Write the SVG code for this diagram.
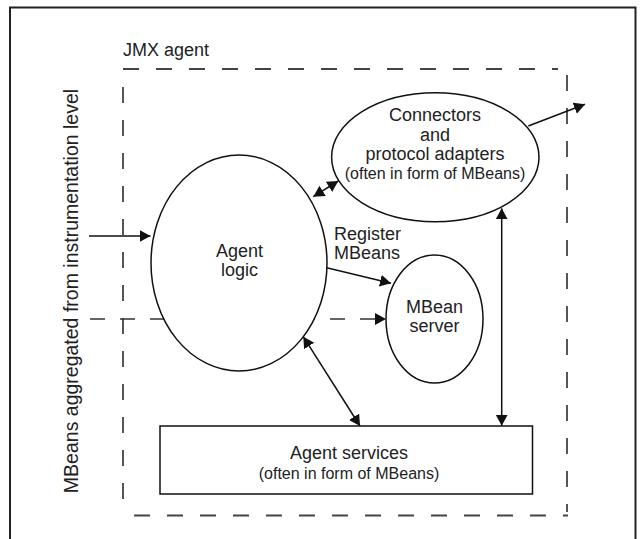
<svg xmlns="http://www.w3.org/2000/svg" width="643" height="539" viewBox="0 0 643 539">
  <style>
    .frame { fill: none; stroke: #222; stroke-width: 2; }
    .node { fill: #fff; stroke: #111; stroke-width: 1.5; }
    .bound { fill: none; stroke: #444; stroke-width: 1.8; stroke-dasharray: 16 17; }
    .wire { fill: none; stroke: #111; stroke-width: 1.5; }
    .wire-dash { fill: none; stroke: #333; stroke-width: 1.6; stroke-dasharray: 15 15; }
    text { font-family: "Liberation Sans", Arial, sans-serif; fill: #222; }
    .lbl { font-size: 18px; text-anchor: middle; }
    .sub { font-size: 16px; text-anchor: middle; }
    .side { font-size: 19.5px; text-anchor: middle; }
  </style>
  <defs>
    <marker id="head" markerUnits="userSpaceOnUse" markerWidth="12" markerHeight="13" refX="11" refY="6" orient="auto-start-reverse">
      <path d="M0,0 L11,6 L0,12 Z" fill="#111"/>
    </marker>
  </defs>

  <rect width="643" height="539" fill="#fff"/>

  <!-- outer page frame (bottom edge runs off the page) -->
  <rect class="frame" x="10" y="7.5" width="625.5" height="560"/>

  <!-- JMX agent boundary -->
  <g id="jmx-agent">
    <text x="123" y="56" font-size="18px">JMX agent</text>
    <line class="bound" x1="123" y1="69" x2="558" y2="69"/>
    <line class="bound" x1="123" y1="87" x2="123" y2="512"/>
    <line class="bound" x1="567" y1="75" x2="567" y2="512"/>
    <line class="bound" x1="134" y1="515.5" x2="568" y2="515.5"/>
  </g>

  <!-- side caption -->
  <g id="instrumentation-level">
    <text class="side" x="78" y="291" transform="rotate(-90 78 291)">MBeans aggregated from instrumentation level</text>
  </g>

  <!-- connectors -->
  <g id="connectors">
    <line class="wire" x1="89" y1="236" x2="150.5" y2="236" marker-end="url(#head)"/>
    <line class="wire" x1="326.7" y1="267.7" x2="391" y2="283.3" marker-end="url(#head)"/>
    <line class="wire-dash" x1="90" y1="319" x2="386" y2="319" marker-end="url(#head)"/>
    <line class="wire" x1="313.3" y1="196.7" x2="338.3" y2="181" marker-start="url(#head)" marker-end="url(#head)"/>
    <line class="wire" x1="528.3" y1="126" x2="585" y2="104.3" marker-end="url(#head)"/>
    <line class="wire" x1="501.7" y1="208.3" x2="501.7" y2="425.7" marker-start="url(#head)" marker-end="url(#head)"/>
    <line class="wire" x1="303.3" y1="336.7" x2="360" y2="426" marker-start="url(#head)" marker-end="url(#head)"/>
  </g>

  <g id="agent-logic">
    <ellipse class="node" cx="239" cy="263" rx="88" ry="108"/>
    <text class="lbl" x="239.5" y="257">Agent</text>
    <text class="lbl" x="239.5" y="275.5">logic</text>
  </g>

  <g id="register-label">
    <text x="334" y="239.5" font-size="18px">Register</text>
    <text x="334" y="258.5" font-size="18px">MBeans</text>
  </g>

  <g id="connectors-adapters">
    <ellipse class="node" cx="435.3" cy="157.2" rx="103.7" ry="64.5"/>
    <text class="lbl" x="435" y="121">Connectors</text>
    <text class="lbl" x="435" y="140.5">and</text>
    <text class="lbl" x="435" y="160">protocol adapters</text>
    <text class="sub" x="435" y="179">(often in form of MBeans)</text>
  </g>

  <g id="mbean-server">
    <ellipse class="node" cx="434.5" cy="319" rx="48.5" ry="64"/>
    <text class="lbl" x="434.5" y="313">MBean</text>
    <text class="lbl" x="434.5" y="331.5">server</text>
  </g>

  <g id="agent-services">
    <rect class="node" x="160" y="426" width="372.5" height="68"/>
    <text class="lbl" x="349" y="458.5">Agent services</text>
    <text class="sub" x="349" y="478.5">(often in form of MBeans)</text>
  </g>
</svg>
